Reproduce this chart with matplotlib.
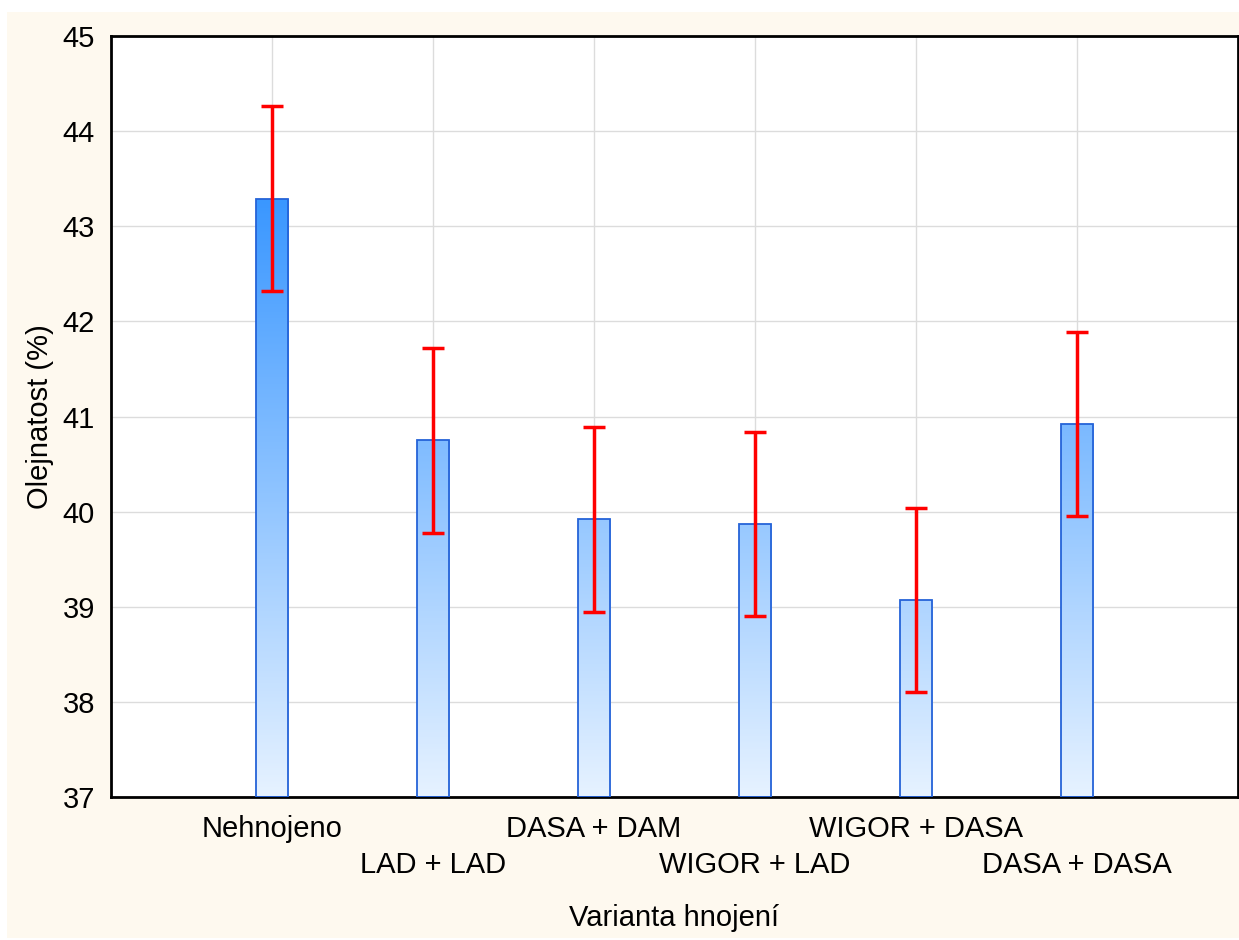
import numpy as np
import matplotlib
matplotlib.use('Agg')
import matplotlib.pyplot as plt
from matplotlib.colors import LinearSegmentedColormap
from matplotlib.patches import Rectangle

plt.rcParams['font.family'] = ['Liberation Sans', 'DejaVu Sans']

categories = ['Nehnojeno', 'LAD + LAD', 'DASA + DAM', 'WIGOR + LAD', 'WIGOR + DASA', 'DASA + DASA']
means = [43.29, 40.75, 39.92, 39.87, 39.07, 40.92]
err = [0.97, 0.97, 0.97, 0.97, 0.97, 0.97]
y_ticks = [37, 38, 39, 40, 41, 42, 43, 44, 45]

fig = plt.figure(figsize=(12.39, 9.4), dpi=100)
# cream backdrop
fig.patches.append(Rectangle((7 / 1239, 2 / 940), 1 - 7 / 1239, 1 - 14 / 940,
                             transform=fig.transFigure, facecolor='#fef9ef',
                             edgecolor='none', zorder=-10))
ax = fig.add_axes([111 / 1239, 1 - 797 / 940, 1127 / 1239, 761 / 940])
ax.set_facecolor('white')

x = np.arange(1, len(categories) + 1)
width = 0.2
cmap = LinearSegmentedColormap.from_list('blu', ['#e6f2ff', '#3a97ff'])
vmin, vmax = 37, max(means)

for xi, m in zip(x, means):
    rect = Rectangle((xi - width / 2, 37), width, m - 37, facecolor='none',
                     edgecolor='#2563d8', linewidth=1.3, zorder=3)
    ax.add_patch(rect)
    grad = np.linspace(37, m, 200).reshape(-1, 1)
    im = ax.imshow(grad, cmap=cmap, vmin=vmin, vmax=vmax, origin='lower',
                   extent=[xi - width / 2, xi + width / 2, 37, m],
                   aspect='auto', zorder=2, interpolation='bilinear')
    im.set_clip_path(rect)

ax.errorbar(x, means, yerr=err, fmt='none', ecolor='#ff0000', elinewidth=2.5,
            capsize=8, capthick=2.5, zorder=4)

ax.set_xlim(0, 7)
ax.set_ylim(37, 45)
ax.set_yticks(y_ticks)

# staggered category labels: first row on major ticks, second row on minor ticks
ax.set_xticks(x[0::2])
ax.set_xticklabels(categories[0::2], fontsize=21)
ax.set_xticks(x[1::2], minor=True)
ax.set_xticklabels(categories[1::2], minor=True, fontsize=21)
ax.tick_params(axis='x', which='major', direction='in', length=6, width=2, pad=13)
ax.tick_params(axis='x', which='minor', direction='in', length=6, width=2, pad=39)
ax.tick_params(axis='y', length=0, pad=11.5, labelsize=21)

ax.grid(True, which='both', axis='x', color='#dcdcdc', linewidth=1, zorder=0)
ax.grid(True, axis='y', color='#dcdcdc', linewidth=1, zorder=0)
ax.set_axisbelow(True)
for s in ax.spines.values():
    s.set_linewidth(2)
    s.set_color('black')

ax.set_xlabel('Varianta hnojení', fontsize=21, labelpad=18)
ax.set_ylabel('Olejnatost (%)', fontsize=21, labelpad=6)

fig.savefig('out.png', dpi=100, facecolor='white')
